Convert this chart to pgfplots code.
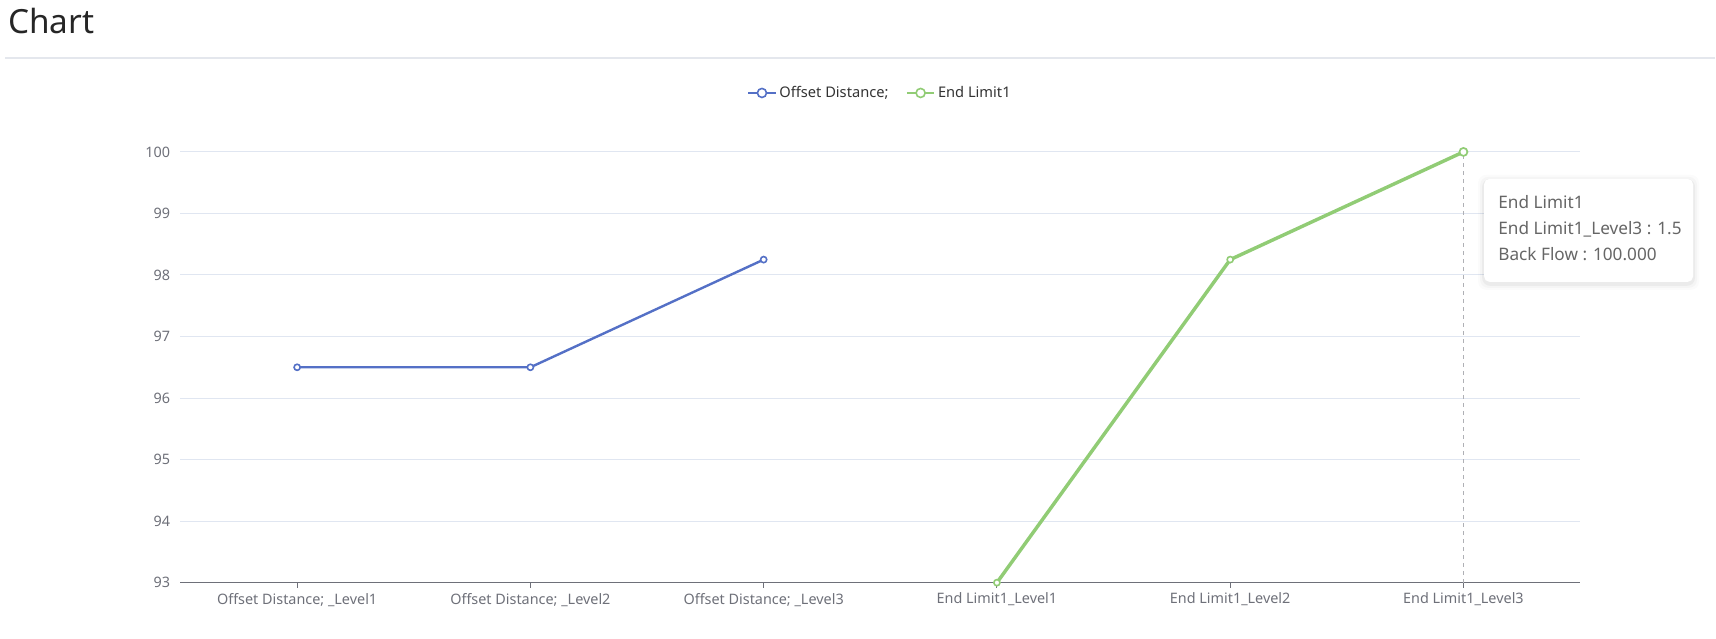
\documentclass[border=0pt]{standalone}
\usepackage{pgfplots}
\pgfplotsset{compat=1.18}
\usepackage{fontspec}
\setmainfont{Noto Sans}

\definecolor{eBlue}{HTML}{5470C6}
\definecolor{eGreen}{HTML}{91CC75}
\definecolor{axisGray}{HTML}{6E7079}
\definecolor{gridGray}{HTML}{E0E6F1}
\definecolor{sepGray}{HTML}{E4E7ED}
\definecolor{tipText}{HTML}{666666}
\definecolor{legText}{HTML}{333333}

\begin{document}
% 1 px of the reference = 0.75pt, y running downwards
\begin{tikzpicture}[x=0.75pt,y=-0.75pt]
	\path (0,0) rectangle (1716,639);
	\node[anchor=base west, inner sep=0, text=black!85, font=\fontsize{25}{30}\selectfont] at (8,34) {Chart};
	\draw[sepGray, line width=1.5pt] (5,58) -- (1716,58);
	\coordinate (O) at (180.6,583);

	\begin{axis}[
	at={(O)}, anchor=south west,
	scale only axis,
	width=1050.3pt, height=323.25pt,
	xmin=-0.5, xmax=5.5,
	ymin=93, ymax=100,
	ytick={93,94,...,100},
	xtick={0,1,2,3,4,5},
	xticklabels={{Offset Distance; \_Level1},{Offset Distance; \_Level2},{Offset Distance; \_Level3},{End Limit1\_Level1},{End Limit1\_Level2},{End Limit1\_Level3}},
	axis lines*=left,
	x axis line style={axisGray, line width=0.75pt, -},
	y axis line style={draw=none},
	xtick style={axisGray, line width=0.75pt},
	ytick style={draw=none},
	tick align=outside,
	major tick length=3.75pt,
	ymajorgrids,
	grid style={gridGray, line width=0.75pt},
	ticklabel style={font=\fontsize{10.8}{13}\selectfont, text=axisGray},
	yticklabel style={xshift=-0.5pt},
	xticklabel style={yshift=-0.5pt},
	/pgf/number format/assume math mode=true,
	clip=false,
	legend columns=2,
	legend style={at={(0.5,1)}, anchor=center, yshift=44.25pt, draw=none, fill=none,
		font=\fontsize{11}{13}\selectfont, text=legText,
		/tikz/every even column/.append style={column sep=11pt}},
	legend image code/.code={\draw[mark repeat=2, mark phase=2, #1] plot coordinates {(0cm,0cm) (0.36cm,0cm) (0.72cm,0cm)};},
	legend image post style={line width=1.6pt, mark size=3.4pt},
	]
	\draw[axisGray!55, dashed, line width=0.75pt] (axis cs:5,93) -- (axis cs:5,100);

	\addplot[eBlue, line width=1.8pt, mark=*, mark size=2.3pt, mark options={fill=white, line width=1.2pt}]
		coordinates {(0,96.5) (1,96.5) (2,98.25)};
	\addplot[eGreen, line width=2.6pt, mark=*, mark size=2.3pt, mark options={fill=white, line width=1.2pt}]
		coordinates {(3,93) (4,98.25) (5,100)};
	\addplot[eGreen, only marks, forget plot, mark=*, mark size=3pt, mark options={fill=white, line width=1.3pt}]
		coordinates {(5,100)};
	\legend{Offset Distance;, End Limit1}
	\end{axis}

	% tooltip
	\foreach \k/\o in {6/0.015,4/0.025,2/0.04} {
		\fill[black, opacity=\o, rounded corners=6] (1485-\k,179-\k+2) rectangle (1694+\k,282+\k+2);
	}
	\fill[white, rounded corners=4] (1485,179) rectangle (1694,282);
	\begin{scope}[every node/.style={anchor=base west, inner sep=0, text=tipText, font=\fontsize{12.9}{15}\selectfont}]
		\node at (1499,209) {End Limit1};
		\node at (1499,235) {End Limit1\_Level3 : 1.5};
		\node at (1499,261) {Back Flow : 100.000};
	\end{scope}
\end{tikzpicture}
\end{document}
